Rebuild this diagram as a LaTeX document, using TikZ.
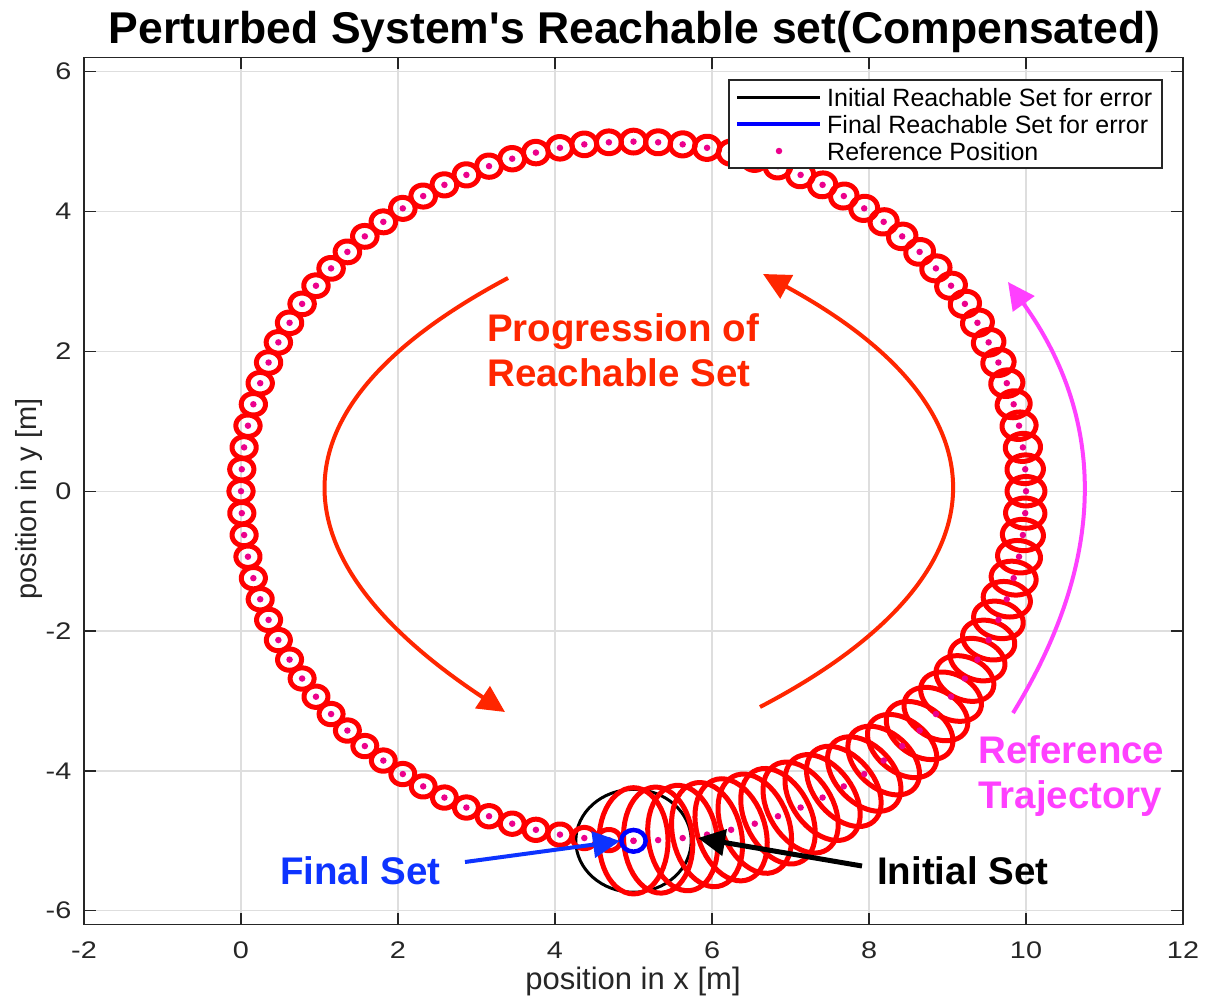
\documentclass[tikz,border=0pt]{standalone}
\usepackage{fontspec}
\setmainfont{Liberation Sans}
\newfontfamily\tickfamily[FakeStretch=1.2]{Liberation Sans}
\newfontfamily\titlefamily{Liberation Sans}
\usetikzlibrary{arrows.meta}

\definecolor{axisgray}{gray}{0.15}
\definecolor{gridgray}{gray}{0.87}
\definecolor{progorange}{RGB}{255,38,0}
\definecolor{trajmagenta}{RGB}{255,64,255}
\definecolor{finalblue}{RGB}{13,51,255}

\tikzset{
  gridline/.style={draw=gridgray, line width=1.3pt},
  axisline/.style={draw=axisgray, line width=1.4pt},
  ticklabel/.style={text=axisgray, font=\tickfamily\fontsize{24}{28}\selectfont, inner sep=0pt},
  axislabel/.style={text=axisgray, font=\fontsize{29}{34}\selectfont, inner sep=0pt},
  titlelabel/.style={text=black, font=\titlefamily\bfseries\fontsize{44.5}{52}\selectfont, inner sep=0pt},
  legendtext/.style={text=black, font=\fontsize{25}{30}\selectfont, inner sep=0pt, anchor=base west},
  annot/.style={font=\bfseries\fontsize{38.5}{46}\selectfont, inner sep=0pt, anchor=base west},
  redset/.style={draw=red, line width=5pt, line join=round},
  initset/.style={draw=black, line width=3pt},
  finalset/.style={draw=blue, line width=4.5pt},
  refdot/.style={circle, fill=magenta, inner sep=0pt, minimum size=6.5pt},
  bigarrow/.style={-{Triangle[length=27pt,width=26pt]}, line width=4pt},
}

\begin{document}
\begin{tikzpicture}[x=1pt,y=-1pt]
\useasboundingbox (0,0) rectangle (1207,1001);
\fill[white] (0,0) rectangle (1207,1001);

% ---------- data area: x in [-2,12], y in [-6.2,6.2] ----------
\begin{scope}[shift={(241,491.2)}, x=78.5pt, y=69.92pt]
  % grid
  \foreach \gx in {0,2,...,10} \draw[gridline] (\gx,-6.2) -- (\gx,6.2);
  \foreach \gy in {-6,-4,...,6} \draw[gridline] (-2,\gy) -- (12,\gy);

  % initial reachable set of the error
  \draw[initset] (5,-5) ellipse [x radius=0.735, y radius=0.735];

  % reachable sets along the reference circle: ellipses aligned with the
  % direction of travel, shrinking towards a constant size
  \foreach \k in {0,...,99}{
    \pgfmathsetmacro\angk{3.6*\k}
    \pgfmathsetmacro\cx{5+5*sin(\angk)}
    \pgfmathsetmacro\cy{-5*cos(\angk)}
    \pgfmathsetmacro\ea{0.15+0.29/(1+(\k/16)^3)}
    \pgfmathsetmacro\eb{0.15+0.61/(1+(\k/14)^3)}
    \draw[redset] plot[domain=0:360, samples=49, variable=\pp]
      ({\cx+\ea*cos(\pp)*cos(\angk)-\eb*sin(\pp)*sin(\angk)},
       {\cy+\ea*cos(\pp)*sin(\angk)+\eb*sin(\pp)*cos(\angk)}) -- cycle;
  }

  % final reachable set of the error
  \draw[finalset] (5,-5) ellipse [x radius=0.155, y radius=0.155];

  % reference positions
  \foreach \k in {0,...,100}
    \node[refdot] (ref\k) at ({5+5*sin(3.6*\k)},{-5*cos(3.6*\k)}) {};

  % axes box and ticks
  \draw[axisline] (-2,-6.2) rectangle (12,6.2);
  \foreach \gx in {-2,0,...,12}{
    \draw[axisline] (\gx,-6.2) -- ++(0pt,11.7pt);
    \draw[axisline] (\gx,6.2) -- ++(0pt,-11.7pt);
  }
  \foreach \gy in {-6,-4,...,6}{
    \draw[axisline] (-2,\gy) -- ++(11.7pt,0pt);
    \draw[axisline] (12,\gy) -- ++(-11.7pt,0pt);
  }
\end{scope}

% tick labels
\foreach \gx in {-2,0,...,12}
  \node[ticklabel, anchor=base] (xt\gx) at ({241+78.5*\gx},958) {\gx};
\foreach \gy in {-6,-4,...,6}
  \node[ticklabel, anchor=east] (yt\gy) at (71.5,{491.2-69.92*\gy}) {\gy};

% axis labels and title
\node[axislabel, anchor=base, font=\fontsize{31}{36}\selectfont] (xlab) at (633,989) {position in x [m]};
\node[axislabel, anchor=base, rotate=90] (ylab) at (36,499) {position in y [m]};
\node[titlelabel, anchor=base] (title) at (634.5,43) {Perturbed System's Reachable set(Compensated)};

% legend
\draw[axisline, fill=white] (729,80) rectangle (1162,168);
\coordinate (lgA1) at (737,97.3);  \coordinate (lgA2) at (820,97.3);
\coordinate (lgB1) at (737,124);   \coordinate (lgB2) at (820,124);
\draw[black, line width=3.3pt] (lgA1) -- (lgA2);
\draw[blue, line width=4.7pt] (lgB1) -- (lgB2);
\node[refdot] (lgdot) at (779,151) {};
\node[legendtext] (lg1) at (827,106.3) {Initial Reachable Set for error};
\node[legendtext] (lg2) at (827,133) {Final Reachable Set for error};
\node[legendtext] (lg3) at (827,160) {Reference Position};

% annotations
\node[annot, text=progorange] (prog1) at (487,341) {Progression of};
\node[annot, text=progorange] (prog2) at (487,386) {Reachable Set};
\node[annot, text=trajmagenta] (traj1) at (978,763) {Reference};
\node[annot, text=trajmagenta] (traj2) at (978,808) {Trajectory};
\node[annot, text=finalblue] (finlab) at (280,884) {Final Set};
\node[annot, text=black] (inilab) at (877,884) {Initial Set};

\coordinate (pl1) at (508,278);  \coordinate (pl2) at (505,712);
\coordinate (pr1) at (760,707);  \coordinate (pr2) at (763,274);
\coordinate (tr1) at (1013,713); \coordinate (tr2) at (1008,282);
\coordinate (fb1) at (465,862);  \coordinate (fb2) at (620,841);
\coordinate (ib1) at (862,866);  \coordinate (ib2) at (698,838);

\draw[bigarrow, progorange] (pl1) .. controls (260,410) and (275,560) .. (pl2);
\draw[bigarrow, progorange] (pr1) .. controls (1013,575) and (1013,410) .. (pr2);
\draw[bigarrow, trajmagenta] (tr1) .. controls (1107,560) and (1107,420) .. (tr2);
\draw[bigarrow, finalblue] (fb1) -- (fb2);
\draw[bigarrow, black, line width=5pt] (ib1) -- (ib2);
\end{tikzpicture}
\end{document}
